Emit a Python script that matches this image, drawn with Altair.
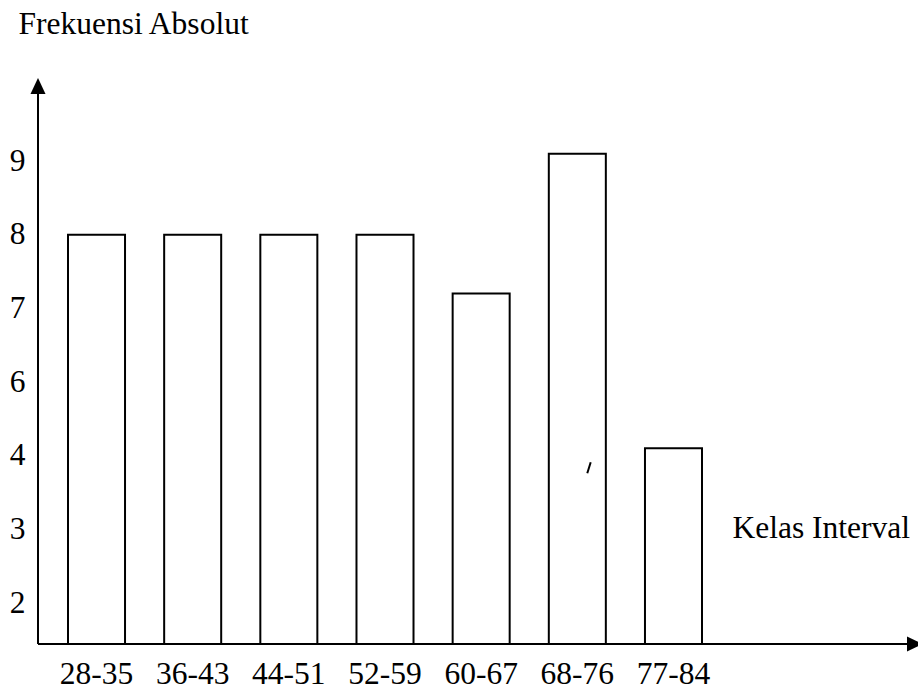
import altair as alt
import pandas as pd

# ---- data ----
kelas = ["28-35", "36-43", "44-51", "52-59", "60-67", "68-76", "77-84"]
frekuensi = [8, 8, 8, 8, 7.2, 9.1, 4.2]
y_ticks = [2, 3, 4, 6, 7, 8, 9]          # the axis skips 5, ticks evenly spaced

df = pd.DataFrame({"kelas": kelas, "frekuensi": frekuensi})

# ---- layout ----
FONT = "Liberation Serif"
FS = 31.5
W, H = 694, 644            # plot area (origin at the y axis, bottom at the x axis)
PAD_L, PAD_R, PAD_B = 38, 186, 45
Y_TOP, Y_STEP = 161, 73.67  # pixel of top tick, spacing between ticks
y_range = [Y_TOP + (len(y_ticks) - 1 - i) * Y_STEP for i in range(len(y_ticks))]

x_enc = alt.X(
    "kelas:N", sort=kelas,
    scale=alt.Scale(paddingInner=0.407, paddingOuter=0.312),
    axis=alt.Axis(
        title="Kelas Interval", titleAngle=0, titleX=694, titleY=-107,
        titleAlign="left", titleBaseline="alphabetic", titleFont=FONT,
        titleFontSize=FS, titleFontWeight="normal", titleColor="black",
        labelFont=FONT, labelFontSize=FS, labelColor="black", labelAngle=0,
        labelBaseline="alphabetic", labelPadding=39, ticks=False, tickSize=0,
        domain=False, grid=False,
    ),
)
y_enc = alt.Y(
    "frekuensi:Q", stack=None,
    scale=alt.Scale(domain=y_ticks, range=y_range, nice=False, zero=False),
    axis=alt.Axis(
        values=y_ticks, title="Frekuensi Absolut", titleAngle=0, titleX=-20,
        titleY=33, titleAlign="left", titleBaseline="alphabetic",
        titleFont=FONT, titleFontSize=FS, titleFontWeight="normal",
        titleColor="black", labelFont=FONT, labelFontSize=FS,
        labelColor="black", labelAlign="right", labelBaseline="middle",
        labelPadding=13, ticks=False, tickSize=0, domain=False, grid=False,
    ),
)

bars = alt.Chart(df).mark_bar(fill="white", stroke="black", strokeWidth=2).encode(
    x=x_enc, y=y_enc, y2=alt.value(H)
)

one = pd.DataFrame({"a": [0]})
y_axis_line = alt.Chart(one).mark_rule(color="black", strokeWidth=2).encode(
    x=alt.value(0), y=alt.value(H), y2=alt.value(90)
)
x_axis_line = alt.Chart(one).mark_rule(color="black", strokeWidth=2).encode(
    x=alt.value(0), x2=alt.value(872), y=alt.value(H)
)
arrow_up = alt.Chart(one).mark_point(
    shape="M-0.94,1L0.94,1L0,-1Z", filled=True, fill="black", opacity=1, size=256
).encode(x=alt.value(0), y=alt.value(86))
arrow_right = alt.Chart(one).mark_point(
    shape="M-1,-0.94L-1,0.94L1,0Z", filled=True, fill="black", opacity=1, size=256
).encode(x=alt.value(877), y=alt.value(H))
stray = alt.Chart(one).mark_rule(color="black", strokeWidth=2).encode(
    x=alt.value(549.3), x2=alt.value(552.7), y=alt.value(473.3), y2=alt.value(462.3)
)

chart = alt.layer(bars, y_axis_line, x_axis_line, arrow_up, arrow_right, stray).properties(
    width=W, height=H,
    autosize=alt.AutoSizeParams(type="none"),
    padding={"left": PAD_L, "top": 0, "right": PAD_R, "bottom": PAD_B},
    background="white",
).configure_view(stroke=None)

chart.save("out.html", embed_options={"renderer": "svg", "actions": False})
